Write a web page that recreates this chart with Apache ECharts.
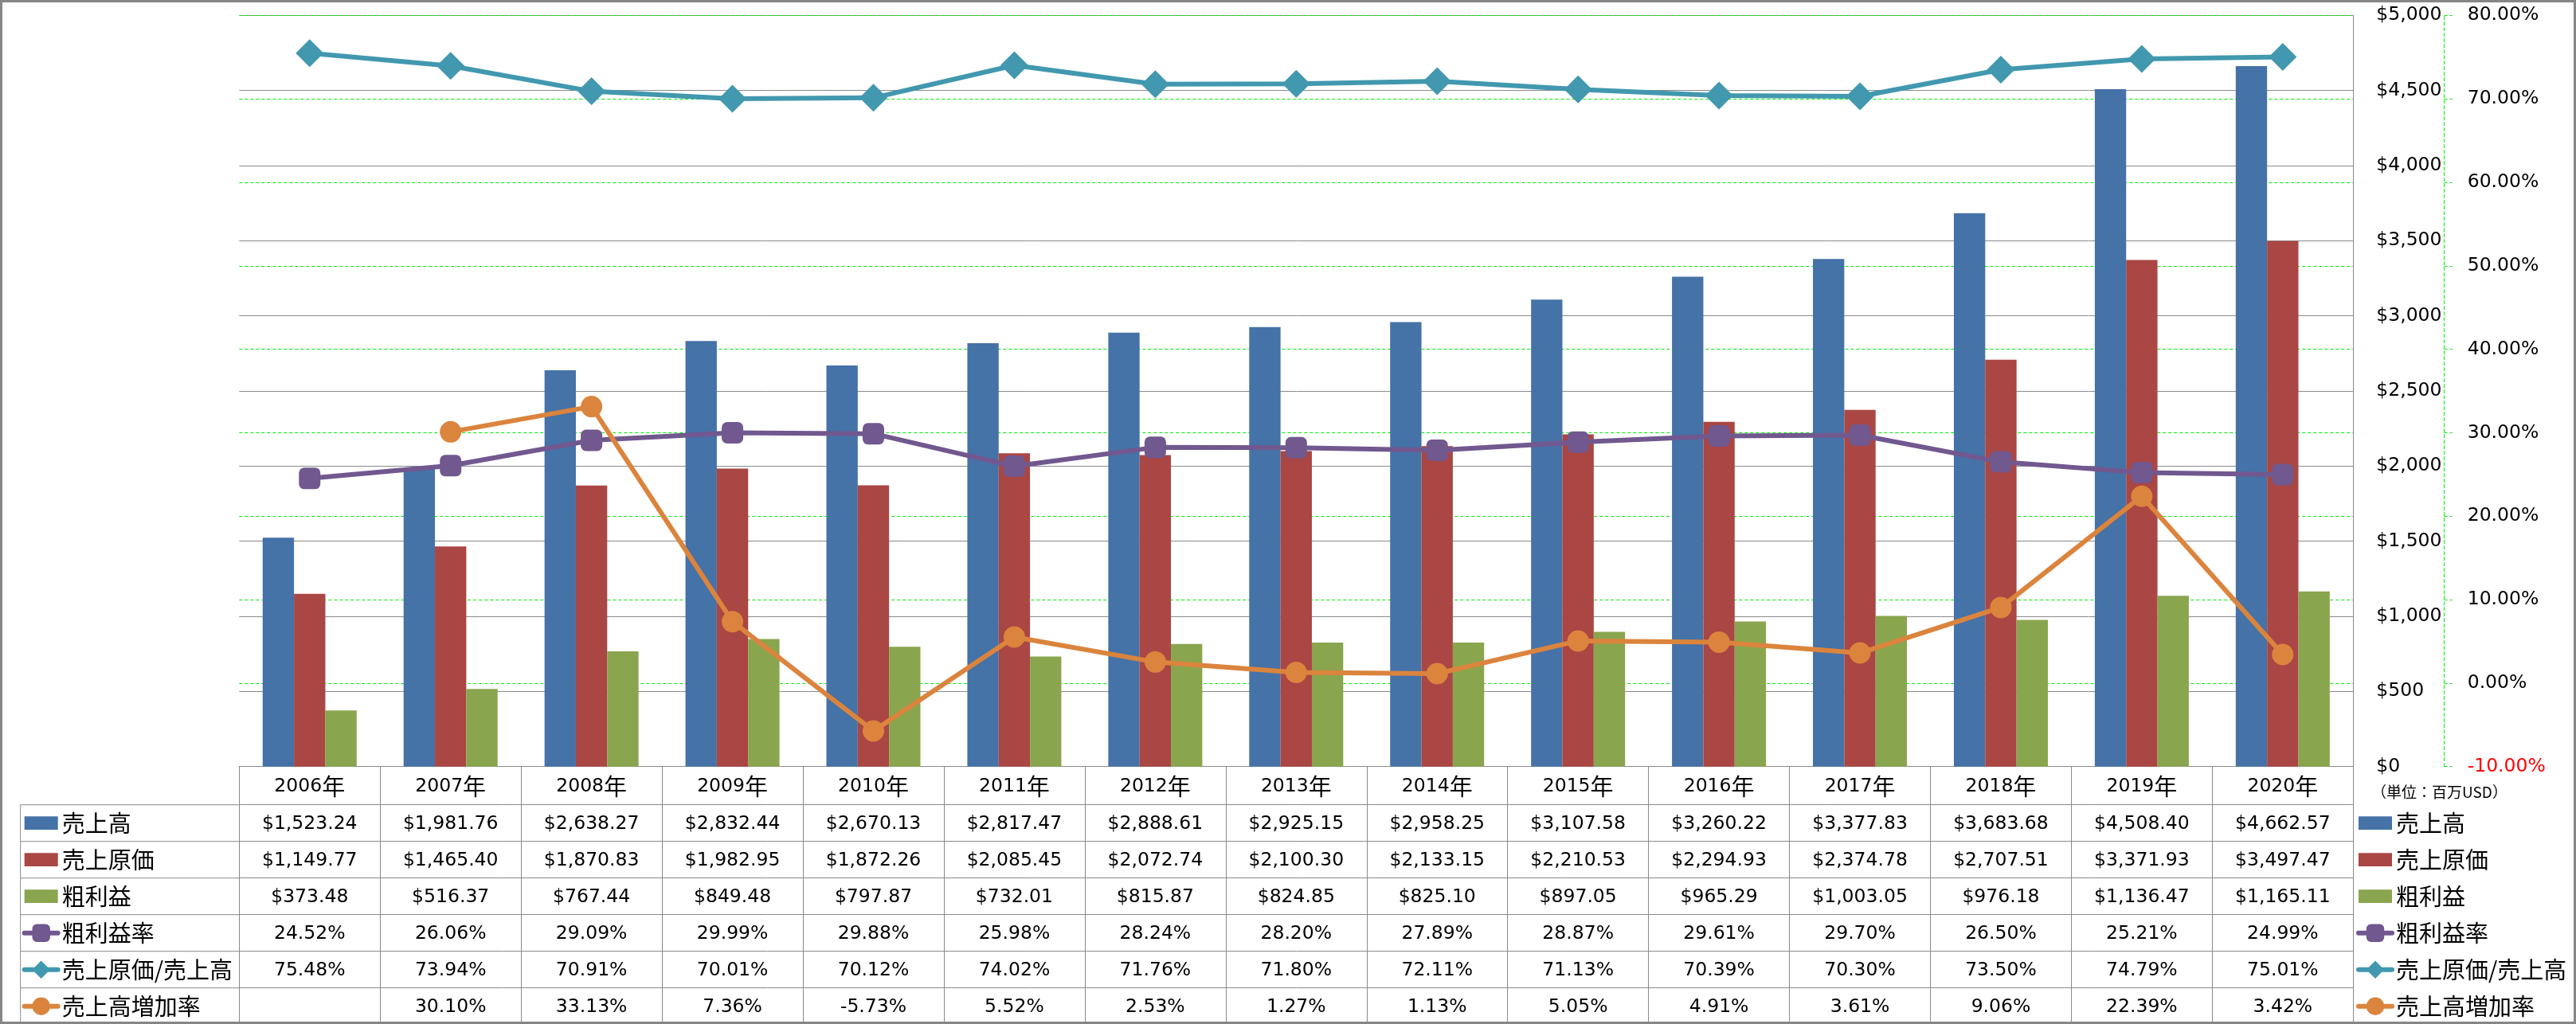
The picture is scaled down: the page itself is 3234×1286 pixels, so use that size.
<!DOCTYPE html>
<html>
<head>
<meta charset="utf-8">
<script src="https://cdn.jsdelivr.net/npm/echarts@6/dist/echarts.min.js"></script>
<style>
html,body{margin:0;padding:0;background:#fff;}
#chart{width:3234px;height:1286px;}
</style>
</head>
<body>
<div id="chart"></div>
<script>
// ---------- data ----------
const years = ['2006','2007','2008','2009','2010','2011','2012','2013','2014','2015','2016','2017','2018','2019','2020'];
const yearSuffix = '年';
const sales = [1523.24,1981.76,2638.27,2832.44,2670.13,2817.47,2888.61,2925.15,2958.25,3107.58,3260.22,3377.83,3683.68,4508.40,4662.57];
const cogs = [1149.77,1465.40,1870.83,1982.95,1872.26,2085.45,2072.74,2100.30,2133.15,2210.53,2294.93,2374.78,2707.51,3371.93,3497.47];
const grossProfit = [373.48,516.37,767.44,849.48,797.87,732.01,815.87,824.85,825.10,897.05,965.29,1003.05,976.18,1136.47,1165.11];
const grossMargin = [24.52,26.06,29.09,29.99,29.88,25.98,28.24,28.20,27.89,28.87,29.61,29.70,26.50,25.21,24.99];
const cogsRatio = [75.48,73.94,70.91,70.01,70.12,74.02,71.76,71.80,72.11,71.13,70.39,70.30,73.50,74.79,75.01];
const salesGrowth = [null,30.10,33.13,7.36,-5.73,5.52,2.53,1.27,1.13,5.05,4.91,3.61,9.06,22.39,3.42];
const seriesNames = ['売上高','売上原価','粗利益','粗利益率','売上原価/売上高','売上高増加率'];
const moneyAxis = {min:0, max:5000, interval:500};
const pctAxis = {min:-10, max:80, interval:10};
const unitNote = '（単位：百万USD）';

// ---------- layout / style ----------
const W = 3234, H = 1286;
const GL = 300.3, GR = 2954.3, GT = 19.3, GB = 962.7;
const HEADER_H = 48, ROW_H = 46;
const TABLE_LEFT = 25.7;
const GRAY = '#8a8a8a';
const GREEN = '#00ee00';
const colors = ['#4572A7','#AA4643','#89A54E','#71588F','#4198AF','#DB843D'];
const NUM_FONT = '"DejaVu Sans", sans-serif';
const CJK_FONT = '"Noto Sans CJK JP", sans-serif';
const NUM_SIZE = 23.5, CJK_SIZE = 29;

const fmtMoney = v => (v == null ? '' : '$' + v.toLocaleString('en-US',{minimumFractionDigits:2, maximumFractionDigits:2}));
const fmtPct = v => (v == null ? '' : v.toFixed(2) + '%');

const tableRows = [
  sales.map(fmtMoney),
  cogs.map(fmtMoney),
  grossProfit.map(fmtMoney),
  grossMargin.map(fmtPct),
  cogsRatio.map(fmtPct),
  salesGrowth.map(fmtPct)
];

const chart = echarts.init(document.getElementById('chart'), null, {renderer:'canvas'});

const xAxes = [{
  type:'category', data: years, position:'bottom', offset:0,
  axisLine:{show:true, onZero:false, lineStyle:{color:GRAY, width:1}},
  axisTick:{show:true, interval:0, length:HEADER_H, alignWithLabel:false, lineStyle:{color:GRAY, width:1}},
  axisLabel:{interval:0, margin:HEADER_H/2 + 1, verticalAlign:'middle', color:'#000',
    formatter: v => '{y|' + v + '}{n|' + yearSuffix + '}',
    rich:{ y:{fontFamily:NUM_FONT, fontSize:NUM_SIZE, color:'#000'}, n:{fontFamily:CJK_FONT, fontSize:CJK_SIZE, color:'#000'} }
  },
  splitLine:{show:false}
}];
tableRows.forEach((row, k) => {
  xAxes.push({
    type:'category', data: years, position:'bottom', offset: HEADER_H + ROW_H * k,
    axisLine:{show:true, onZero:false, lineStyle:{color:GRAY, width:1}},
    axisTick:{show:true, interval:0, length:ROW_H, lineStyle:{color:GRAY, width:1}},
    axisLabel:{interval:0, margin:ROW_H/2 + 1, verticalAlign:'middle', color:'#000',
      fontFamily:NUM_FONT, fontSize:NUM_SIZE,
      formatter:(v, i) => row[i]},
    splitLine:{show:false}
  });
});

const rectIcon = 'path://M0,0H40V16H0Z';
const legendData = seriesNames.map((n, i) => i < 3 ? {name:n, icon:rectIcon} : {name:n, lineStyle:{width:6, cap:'round'}});
const ITEM_H = 29;
const legendTop = GB + HEADER_H + ROW_H/2 - ITEM_H/2;
const legendCommon = {
  type:'plain', orient:'vertical', top: legendTop, height: 400, itemWidth:42, itemHeight:28, itemGap: ROW_H - ITEM_H,
  padding:0, selectedMode:false, data: legendData,
  textStyle:{fontFamily:CJK_FONT, fontSize:CJK_SIZE, color:'#000', lineHeight:ITEM_H}
};

const graphics = [];
for (let j = 0; j < 6; j++) {
  const y = GB + HEADER_H + ROW_H * j;
  graphics.push({type:'line', silent:true, shape:{x1:TABLE_LEFT, y1:y, x2:GL, y2:y}, style:{stroke:GRAY, lineWidth:1}});
}
graphics.push({type:'line', silent:true, shape:{x1:TABLE_LEFT, y1:GB + HEADER_H, x2:TABLE_LEFT, y2:H}, style:{stroke:GRAY, lineWidth:1}});
graphics.push({type:'text', silent:true, left:2977, top:985, style:{text:unitNote, fontFamily:CJK_FONT, fontSize:19, fill:'#000'}});
graphics.push({type:'rect', silent:true, z:100, shape:{x:1.5, y:1.5, width:W-3, height:H-3}, style:{fill:null, stroke:'#868686', lineWidth:3}});

const option = {
  animation:false,
  backgroundColor:'#ffffff',
  grid:{left:GL, right:W-GR, top:GT, bottom:H-GB, containLabel:false, outerBoundsMode:'none'},
  legend:[
    Object.assign({left:TABLE_LEFT + 2}, legendCommon),
    Object.assign({left:2958}, legendCommon)
  ],
  xAxis: xAxes,
  yAxis:[{
    type:'value', position:'right', min:moneyAxis.min, max:moneyAxis.max, interval:moneyAxis.interval,
    axisLine:{show:true, onZero:false, lineStyle:{color:GRAY, width:1}},
    axisTick:{show:false},
    axisLabel:{show:true, margin:29, align:'left', color:'#000', fontFamily:NUM_FONT, fontSize:NUM_SIZE,
      showMinLabel:true, showMaxLabel:true,
      formatter: v => '$' + Number(v).toLocaleString('en-US')},
    splitLine:{show:true, lineStyle:{color:GRAY, width:1}}
  },{
    type:'value', position:'right', offset: 3068.7 - GR, min:pctAxis.min, max:pctAxis.max, interval:pctAxis.interval,
    axisLine:{show:true, onZero:false, lineStyle:{color:GREEN, width:1, type:[4,3]}},
    axisTick:{show:true, length:10, lineStyle:{color:GREEN, width:1, type:[4,3]}},
    axisLabel:{show:true, margin:29, align:'left', fontFamily:NUM_FONT, fontSize:NUM_SIZE,
      showMinLabel:true, showMaxLabel:true,
      color: v => (Number(v) < 0 ? '#ff0000' : '#000000'),
      formatter: v => Number(v).toFixed(2) + '%'},
    splitLine:{show:true, lineStyle:{color:GREEN, width:1, type:[4,3]}}
  }],
  series:[
    {name:seriesNames[0], type:'bar', data:sales, itemStyle:{color:colors[0]}, barGap:'0%', barCategoryGap:'33.3%'},
    {name:seriesNames[1], type:'bar', data:cogs, itemStyle:{color:colors[1]}, barGap:'0%', barCategoryGap:'33.3%'},
    {name:seriesNames[2], type:'bar', data:grossProfit, itemStyle:{color:colors[2]}, barGap:'0%', barCategoryGap:'33.3%'},
    {name:seriesNames[3], type:'line', yAxisIndex:1, data:grossMargin, symbol:'roundRect', symbolSize:27,
      lineStyle:{color:colors[3], width:6}, itemStyle:{color:colors[3]}, z:3},
    {name:seriesNames[4], type:'line', yAxisIndex:1, data:cogsRatio, symbol:'diamond', symbolSize:35,
      lineStyle:{color:colors[4], width:6}, itemStyle:{color:colors[4]}, z:4},
    {name:seriesNames[5], type:'line', yAxisIndex:1, data:salesGrowth, symbol:'circle', symbolSize:27,
      lineStyle:{color:colors[5], width:6}, itemStyle:{color:colors[5]}, z:5}
  ],
  graphic: graphics
};
chart.setOption(option);
</script>
</body>
</html>
